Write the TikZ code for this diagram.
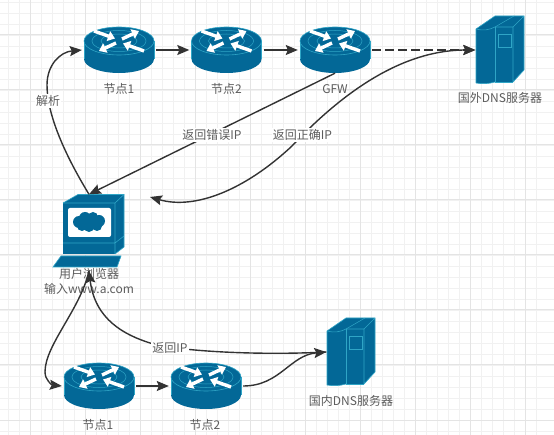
\documentclass[tikz,border=0pt]{standalone}
\usepackage{xcolor}
\usepackage{fontspec}
\setmainfont{Noto Sans CJK SC}
\usetikzlibrary{arrows.meta}
\definecolor{teal1}{HTML}{036897}
\definecolor{teal2}{HTML}{2FA5C6}
\definecolor{ink}{HTML}{333333}
\definecolor{greytext}{HTML}{5C5C5C}
\definecolor{gridminor}{HTML}{F1F1F1}
\definecolor{gridmajor}{HTML}{E4E4E4}
\tikzset{
  >={Stealth[length=12pt,width=10pt,inset=2pt]},
  link/.style={ink, line width=1.4pt},
  caption/.style={text=greytext, font=\fontsize{12}{14}\selectfont, inner sep=0pt, align=center},
  edgelabel/.style={caption, fill=white, inner sep=1pt},
  routerbox/.style={minimum width=74pt, minimum height=46pt, inner sep=0pt},
  serverbox/.style={minimum width=49pt, minimum height=70pt, inner sep=0pt},
  arm/.style={white, line width=3.4pt, -{Triangle[length=7pt,width=10pt]}},
  router/.pic={
    \fill[teal1] (-35,-9) rectangle (35,9);
    \fill[teal1] (0,9) ellipse (35 and 14);
    \draw[teal2, line width=0.5pt] (-35,-9) -- (-35,9) (35,-9) -- (35,9);
    \draw[teal2, line width=0.6pt, fill=teal1] (0,-9) ellipse (35 and 14);
    \draw[teal2, line width=0.5pt] (0,-9) ellipse (27 and 10.5) (0,-9) ellipse (18 and 7);
    % four white arms, two in and two out
    \draw[arm] (3,-11) -- (20,-19);
    \draw[arm] (-3,-7) -- (-20,1);
    \draw[arm] (-25,-19) -- (-4,-11.5);
    \draw[arm] (25,1) -- (4,-6.5);
  },
  server/.pic={
    \fill[teal1] (-24,-21) -- (-5,-34) -- (24,-34) -- (24,20) -- (13,32) -- (-5,32)
      .. controls (-12,34) and (-18,34) .. (-24,33) -- cycle;
    \draw[teal2, line width=0.6pt] (-24,33) -- (-24,-21) -- (-5,-34) -- (24,-34) -- (24,20) -- (13,32) -- (13,-23) -- (24,-34);
    \draw[teal2, line width=0.6pt] (-24,-21) .. controls (-17,-19) and (-11,-20) .. (-5,-23) -- (13,-23);
    \draw[teal2, line width=0.6pt] (-5,-23) -- (-5,32) -- (13,32);
    \draw[teal2, line width=0.6pt] (-24,33) .. controls (-18,34) and (-12,34) .. (-5,32);
    \draw[teal2, line width=0.5pt] (-5,-23) -- (14,-34);
    \draw[teal2, line width=0.8pt] (-2,-16) rectangle (11,-3);
  },
  computer/.pic={
    % monitor
    \fill[teal1] (-26,-28) -- (-11,-36.5) -- (35,-36.5) -- (35,16) -- (26,23) -- (-26,23) -- cycle;
    \draw[teal2, line width=0.6pt] (-26,-28) -- (26,-28) -- (35,-36.5) (26,-28) -- (26,23) (-26,12) -- (26,12) -- (35,5);
    \draw[teal2, line width=0.6pt] (-26,-28) -- (-11,-36.5) -- (35,-36.5) -- (35,16) -- (26,23);
    \fill[white, rounded corners=2pt] (-21,-23) rectangle (22,6);
    % cloud
    \fill[teal1] (0,-9) ellipse (15 and 7.5);
    \foreach \cx/\cy/\cr in {-10/-9/6, -4/-13/6, 4/-14/5, 10/-10/6, 8/-5/5, 0/-4/5, -7/-5/5}
      \fill[teal1] (\cx,\cy) circle (\cr);
    % keyboard
    \fill[teal1] (-36,36) -- (-28,25) -- (32,25) -- (28,36) -- cycle;
    \draw[teal2, line width=0.6pt] (-36,36) -- (-28,25) -- (32,25) -- (28,36) -- cycle;
  },
}
\newcommand{\routernode}[3]{
  \node[routerbox] (#1) at (#2,#3) {};
  \pic at (#2,#3) {router};
}
\newcommand{\servernode}[3]{
  \node[serverbox] (#1) at (#2,#3) {};
  \pic at (#2,#3) {server};
}

\begin{document}
\begin{tikzpicture}[x=1pt,y=-1pt]
  \useasboundingbox (0,0) rectangle (554,435);
  \fill[white] (0,0) rectangle (554,435);

  % Background grid
  \foreach \i in {-2,...,48}
    \draw[gridminor, line width=0.8pt] (8+11*\i,0) -- (8+11*\i,435);
  \foreach \i in {-1,...,38}
    \draw[gridminor, line width=0.8pt] (0,13+11*\i) -- (554,13+11*\i);
  \foreach \i in {0,...,9}
    \draw[gridmajor, line width=1pt] (30+55*\i,0) -- (30+55*\i,435);
  \foreach \i in {0,...,7}
    \draw[gridmajor, line width=1pt] (0,35+55*\i) -- (554,35+55*\i);

  % Upper route
  \routernode{hopA}{119}{50}
  \routernode{hopB}{226.5}{50}
  \routernode{gfw}{335}{50}
  \servernode{foreign}{500}{50}
  \node[caption] (hopAtext) at (119,89) {节点1};
  \node[caption] (hopBtext) at (226.5,89) {节点2};
  \node[caption] (gfwtext) at (335,89) {GFW};
  \node[caption] (foreigntext) at (500,98) {国外DNS服务器};

  % Browser
  \node[minimum width=71pt, minimum height=73pt, inner sep=0pt] (browser) at (89,231) {};
  \pic at (89,231) {computer};
  \node[caption] (browsertext) at (89,274) {用户浏览器};
  \node[caption] (urltext) at (89,289) {输入www.a.com};
  \coordinate (browserfoot) at (89,271);
  \coordinate (wrongend) at (150,197);

  % Lower route
  \routernode{hopC}{99}{386}
  \routernode{hopD}{206}{386}
  \servernode{local}{351}{352}
  \node[caption] (hopCtext) at (98,425) {节点1};
  \node[caption] (hopDtext) at (205,425) {节点2};
  \node[caption] (localtext) at (351,401) {国内DNS服务器};

  % Connectors
  \draw[link,->] (hopA) -- (hopB);
  \draw[link,->] (hopB) -- (gfw);
  \draw[link,->,dash pattern=on 9pt off 4pt] (gfw) -- (foreign);
  \draw[link,->] (browser.north) .. controls (62,150) and (47,112) .. (47,85)
    .. controls (47,65) and (60,52) .. (hopA.west);
  \draw[link,->] (gfw.south) -- (browser.north);
  \draw[link,<->] (foreign.west) .. controls (400,50) and (340,95) .. (292,146)
    .. controls (245,190) and (195,210) .. (wrongend);
  \draw[link,->] (browserfoot) .. controls (80,310) and (45,345) .. (45,372)
    .. controls (45,380) and (52,385) .. (hopC.west);
  \draw[link,->] (hopC) -- (hopD);
  \draw[link,->] (hopD.east) .. controls (280,386) and (290,355) .. (local.west);
  \draw[link,->] (local.west) .. controls (250,356) and (170,350) .. (150,343)
    .. controls (125,335) and (95,320) .. (browserfoot);

  % Labels on the connectors
  \node[edgelabel] (parselabel) at (48,101) {解析};
  \node[edgelabel] (wronglabel) at (212,135) {返回错误IP};
  \node[edgelabel] (rightlabel) at (302.5,135) {返回正确IP};
  \node[edgelabel] (iplabel) at (170,348) {返回IP};
\end{tikzpicture}
\end{document}
